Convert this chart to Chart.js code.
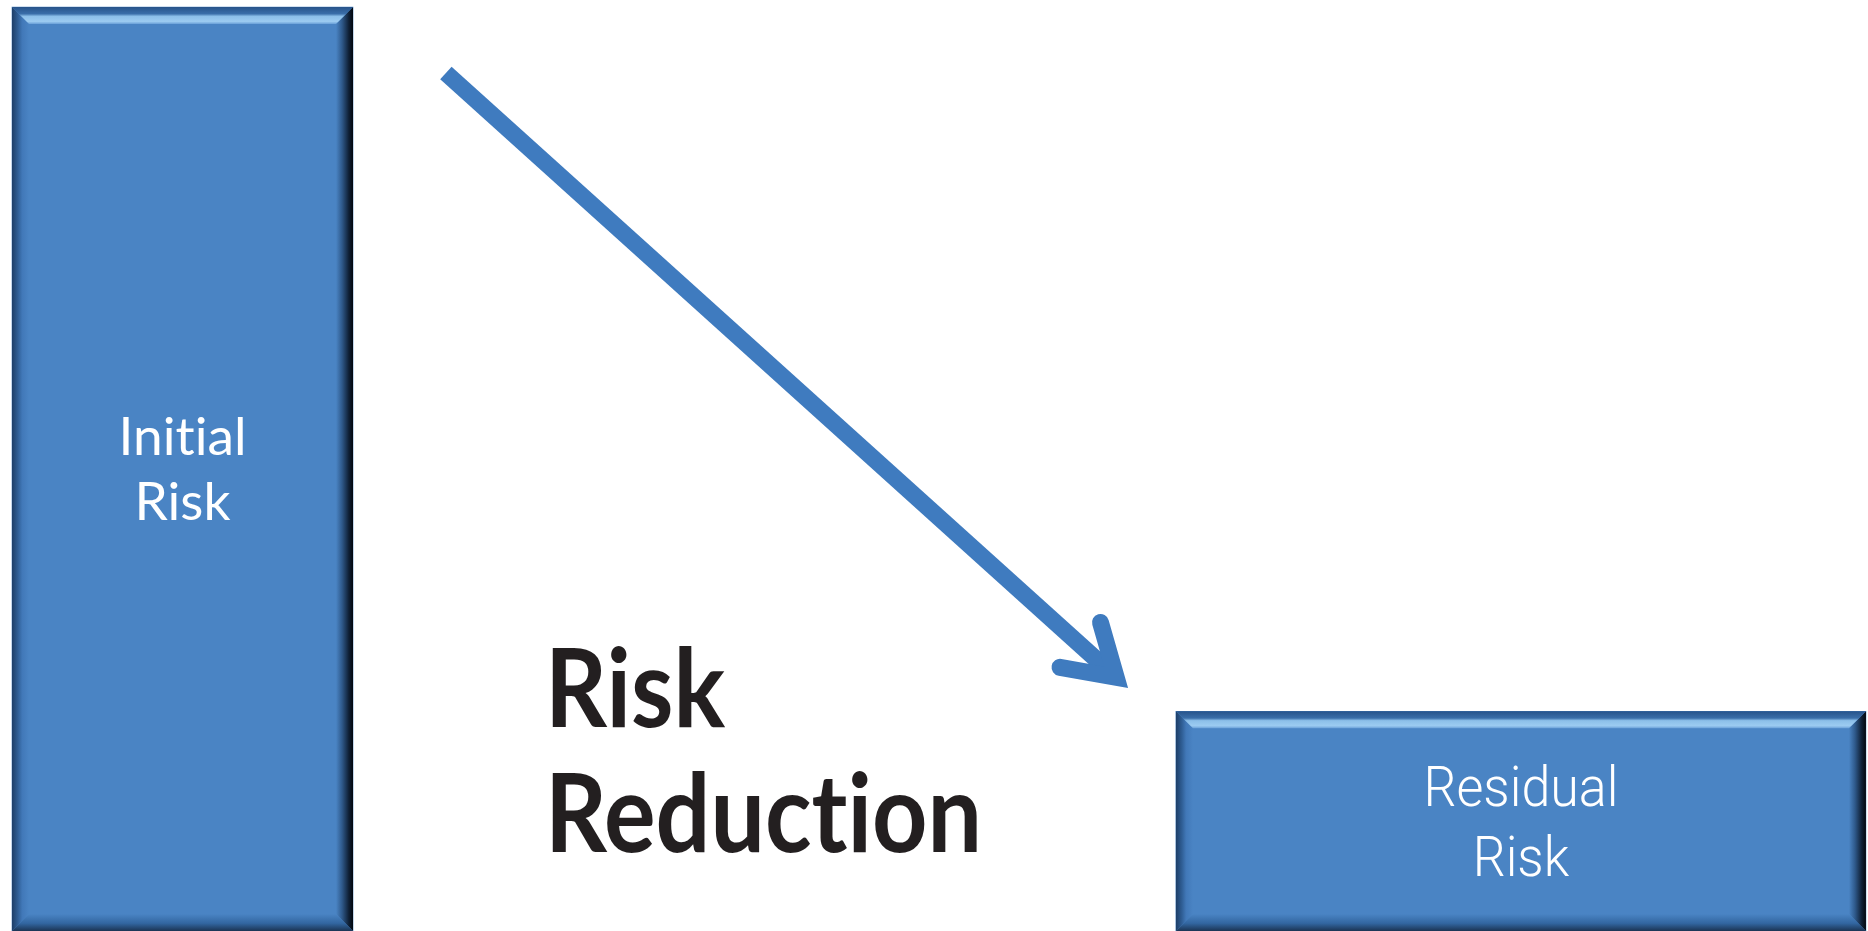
<!DOCTYPE html>
<html>
<head>
  <title>Risk Reduction</title>
  <style>
    html, body {
      margin: 0;
      padding: 0;
      background: #ffffff;
      overflow: hidden;
    }
    .chart-wrap {
      position: relative;
      width: 1868px;
      height: 931px;
    }
  </style>
</head>
<body>
  <div class="chart-wrap">
    <canvas id="riskChart"></canvas>
  </div>

  <script src="https://cdn.jsdelivr.net/npm/chart.js"></script>
  <script>
    // data (axes run 0..100 in both directions)
    const categories = ['Initial Risk', 'Residual Risk'];
    const riskLevels = [99.25, 23.6];
    const stagePositions = [9.77, 81.42];
    const labelLines = [['Initial', 'Risk'], ['Residual', 'Risk']];

    // the arrow and the caption, in axis units
    const arrowFrom = [23.87, 92.16];
    const arrowTo = [60.39, 26.1];
    const captionLines = ['Risk', 'Reduction'];
    const captionAt = [29.18, 21.91, 8.49];

    // styling
    const barWidthsPx = [341, 690];
    const barColor = '#4a84c4';
    const arrowColor = '#3f7bbf';
    const labelFonts = ['400 52px Lato, "Open Sans", sans-serif', '300 56px Roboto, "Liberation Sans Narrow", sans-serif'];
    const labelFitWidths = [128, 195];
    const labelGaps = [65, 70];
    const labelCaps = [37, 40];

    // no "ti" ligatures (Lato has them, the original font does not)
    function plainText(ctx) {
      if ('textRendering' in ctx) ctx.textRendering = 'optimizeSpeed';
      if ('letterSpacing' in ctx) ctx.letterSpacing = '0.01px';
    }

    function fitText(ctx, text, x, y, font, scaleX, align) {
      ctx.save();
      ctx.font = font;
      plainText(ctx);
      ctx.textAlign = align;
      ctx.textBaseline = 'alphabetic';
      ctx.translate(x, y);
      ctx.scale(scaleX, 1);
      ctx.fillText(text, 0, 0);
      ctx.restore();
    }

    function widthOf(ctx, text, font) {
      ctx.save();
      ctx.font = font;
      plainText(ctx);
      const w = ctx.measureText(text).width;
      ctx.restore();
      return w;
    }

    function grad(ctx, x0, y0, x1, y1, stops) {
      const g = ctx.createLinearGradient(x0, y0, x1, y1);
      stops.forEach(s => g.addColorStop(s[0], s[1]));
      return g;
    }

    function poly(ctx, pts, fill) {
      ctx.beginPath();
      ctx.moveTo(pts[0][0], pts[0][1]);
      for (let i = 1; i < pts.length; i++) ctx.lineTo(pts[i][0], pts[i][1]);
      ctx.closePath();
      ctx.fillStyle = fill;
      ctx.fill();
    }

    // bevel edges + labels on the bars, then arrow and caption
    const decorPlugin = {
      id: 'decor',
      afterDatasetsDraw(chart) {
        const ctx = chart.ctx;
        const xs = chart.scales.x;
        const ys = chart.scales.y;
        const b = 17;

        chart.data.datasets.forEach((ds, i) => {
          const el = chart.getDatasetMeta(i).data[0];
          if (!el) return;
          const p = el.getProps(['x', 'y', 'base', 'width'], true);
          const L = p.x - p.width / 2, R = p.x + p.width / 2, T = p.y, B = p.base;

          poly(ctx, [[L, T], [L + b, T + b], [L + b, B - b], [L, B]],
            grad(ctx, L, 0, L + b, 0, [[0, '#1d3e68'], [0.35, '#2f5e95'], [0.6, '#4178b8'], [1, barColor]]));
          poly(ctx, [[R, T], [R, B], [R - b, B - b], [R - b, T + b]],
            grad(ctx, R - b, 0, R, 0, [[0, barColor], [0.35, '#2f5a8c'], [0.75, '#0f2036'], [1, '#03070d']]));
          poly(ctx, [[L, B], [R, B], [R - b, B - b], [L + b, B - b]],
            grad(ctx, 0, B - b, 0, B, [[0, barColor], [0.55, '#3266a0'], [1, '#1b3454']]));
          poly(ctx, [[L, T], [R, T], [R - b, T + b], [L + b, T + b]],
            grad(ctx, 0, T, 0, T + b, [[0, '#27538a'], [0.4, '#3a6ea9'], [0.55, '#8cbfe9'], [0.85, '#9ccbf1'], [1, '#6aa0d8']]));

          // two-line label, centred in the bar
          const lines = labelLines[i];
          const font = labelFonts[i];
          const sx = labelFitWidths[i] / widthOf(ctx, lines[0], font);
          const mid = (T + B) / 2;
          const first = mid - (labelGaps[i] - labelCaps[i]) / 2;
          ctx.fillStyle = '#ffffff';
          lines.forEach((t, k) => fitText(ctx, t, p.x, first + k * labelGaps[i], font, sx, 'center'));
        });

        // arrow
        const x0 = xs.getPixelForValue(arrowFrom[0]), y0 = ys.getPixelForValue(arrowFrom[1]);
        const x1 = xs.getPixelForValue(arrowTo[0]), y1 = ys.getPixelForValue(arrowTo[1]);
        const ang = Math.atan2(y1 - y0, x1 - x0);
        const w = 17, half = 32 * Math.PI / 180, arm = 57;
        const miter = (w / 2) / Math.sin(half);
        const vx = x1 - Math.cos(ang) * miter, vy = y1 - Math.sin(ang) * miter;

        ctx.save();
        ctx.strokeStyle = arrowColor;
        ctx.lineWidth = w;
        ctx.lineCap = 'butt';
        ctx.beginPath();
        ctx.moveTo(x0, y0);
        ctx.lineTo(vx - Math.cos(ang) * 4, vy - Math.sin(ang) * 4);
        ctx.stroke();

        ctx.lineCap = 'round';
        ctx.lineJoin = 'miter';
        ctx.miterLimit = 10;
        ctx.beginPath();
        ctx.moveTo(vx + Math.cos(ang + Math.PI - half) * arm, vy + Math.sin(ang + Math.PI - half) * arm);
        ctx.lineTo(vx, vy);
        ctx.lineTo(vx + Math.cos(ang + Math.PI + half) * arm, vy + Math.sin(ang + Math.PI + half) * arm);
        ctx.stroke();
        ctx.restore();

        // caption
        const capFont = 'bold 109px Lato, "Open Sans", sans-serif';
        const csx = 437 / widthOf(ctx, captionLines[1], capFont);
        const cx = xs.getPixelForValue(captionAt[0]);
        ctx.fillStyle = '#231f20';
        captionLines.forEach((t, k) => {
          fitText(ctx, t, cx, ys.getPixelForValue(captionAt[k + 1]), capFont, csx, 'left');
        });
      }
    };

    const ctx = document.getElementById('riskChart').getContext('2d');
    const chart = new Chart(ctx, {
      type: 'bar',
      data: {
        datasets: categories.map((c, i) => ({
          label: c,
          data: [{ x: stagePositions[i], y: riskLevels[i] }],
          backgroundColor: barColor,
          borderWidth: 0,
          barThickness: barWidthsPx[i],
          grouped: false
        }))
      },
      options: {
        responsive: true,
        maintainAspectRatio: false,
        animation: false,
        layout: { padding: 0 },
        plugins: {
          legend: { display: false },
          tooltip: { enabled: false },
          title: { display: false }
        },
        scales: {
          x: { type: 'linear', min: 0, max: 100, offset: false, display: false },
          y: { type: 'linear', min: 0, max: 100, display: false }
        }
      },
      plugins: [decorPlugin]
    });
  </script>
</body>
</html>
